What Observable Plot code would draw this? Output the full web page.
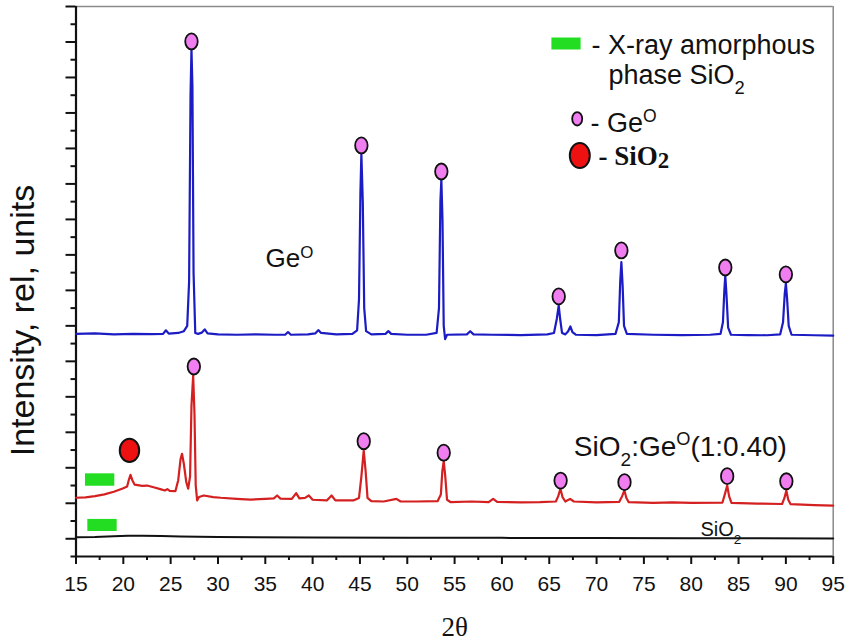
<!DOCTYPE html>
<html>
<head>
<meta charset="utf-8">
<script src="https://cdn.jsdelivr.net/npm/d3@7"></script>
<script src="https://cdn.jsdelivr.net/npm/@observablehq/plot@0.6"></script>
<style>
  html, body { margin: 0; padding: 0; background: #fff; }
  #chart { width: 847px; height: 641px; }
</style>
</head>
<body>
<div id="chart"></div>
<script>
// ---------- data (2θ, relative intensity) ----------
const geCurve = [
  [15.0,12.55],[17.0,12.58],[19.0,12.52],[21.0,12.55],[23.0,12.53],[24.2,12.55],[24.5,12.75],[24.8,12.56],
  [25.8,12.6],[26.4,12.7],[26.75,13.0],[26.95,15.5],[27.1,26.0],[27.2,28.6],[27.3,26.5],[27.42,16.0],[27.6,12.6],
  [27.9,12.55],[28.3,12.62],[28.6,12.8],[28.9,12.58],[30,12.52],[32,12.5],[34,12.52],[36,12.5],[37.1,12.5],
  [37.4,12.65],[37.7,12.5],[39.5,12.52],[40.3,12.58],[40.6,12.76],[40.9,12.6],[42.5,12.52],[44.2,12.55],
  [44.7,12.75],[44.9,14.5],[45.05,20.5],[45.15,22.7],[45.3,20.0],[45.45,14.0],[45.65,12.7],[46.2,12.52],
  [47.7,12.55],[48.0,12.7],[48.3,12.55],[50,12.5],[52,12.5],[53.1,12.6],[53.35,14.0],[53.5,20.0],[53.6,21.25],
  [53.72,19.0],[53.85,13.0],[54.0,12.25],[54.2,12.5],[56.3,12.52],[56.65,12.7],[57.0,12.52],[59,12.5],
  [62,12.48],[64.8,12.52],[65.5,12.6],[65.8,13.4],[66.0,14.15],[66.15,13.4],[66.35,12.6],[66.7,12.52],
  [67.0,12.7],[67.23,12.97],[67.45,12.65],[67.8,12.5],[70,12.48],[72.0,12.55],[72.35,13.2],[72.5,15.5],
  [72.62,16.6],[72.75,15.3],[72.9,13.0],[73.2,12.55],[76,12.5],[79,12.48],[82,12.5],[83.1,12.55],[83.35,13.2],
  [83.5,15.0],[83.6,15.84],[83.72,14.8],[83.9,12.9],[84.2,12.5],[86,12.48],[88,12.47],[89.4,12.52],[89.7,13.2],
  [89.88,14.8],[90.0,15.4],[90.12,14.6],[90.3,13.0],[90.6,12.5],[93,12.47],[95,12.45]
];
const sio2GeCurve = [
  [15.0,3.31],[16,3.33],[17,3.4],[18,3.5],[19,3.65],[20,3.85],[20.4,3.95],[20.6,4.35],[20.76,4.6],[20.95,4.3],
  [21.2,4.05],[22,3.98],[22.5,4.0],[23.2,3.9],[23.9,3.8],[24.4,3.72],[24.65,3.8],[24.9,3.7],[25.5,3.68],
  [25.8,4.3],[26.05,5.5],[26.2,5.79],[26.4,5.2],[26.65,4.2],[26.85,3.82],[27.05,4.5],[27.2,8.5],[27.38,10.2],
  [27.52,8.0],[27.65,4.0],[27.8,3.16],[28.0,3.35],[28.5,3.44],[29.5,3.35],[30.3,3.31],[32,3.25],[33.4,3.21],
  [35,3.25],[35.9,3.28],[36.25,3.44],[36.6,3.26],[37.8,3.25],[38.26,3.57],[38.6,3.28],[39.2,3.3],[39.6,3.44],
  [40.0,3.2],[41.5,3.16],[42.0,3.44],[42.4,3.16],[44.3,3.16],[44.9,3.3],[45.15,4.5],[45.4,5.98],[45.6,4.8],
  [45.8,3.3],[46.2,3.12],[47.5,3.1],[48.85,3.25],[49.3,3.1],[51,3.1],[53.2,3.12],[53.55,3.5],[53.7,4.8],
  [53.85,5.37],[54.0,4.6],[54.2,3.2],[54.6,3.06],[56.8,3.1],[58.6,3.06],[59.07,3.25],[59.5,3.08],[62,3.05],
  [64,3.06],[65.7,3.1],[65.95,3.4],[66.18,3.82],[66.4,3.35],[66.7,3.1],[67.2,3.25],[67.6,3.1],[70,3.05],
  [72.4,3.08],[72.7,3.4],[72.94,3.72],[73.15,3.3],[73.4,3.06],[76,3.02],[78,3.05],[80,3.02],[83.3,3.04],
  [83.55,3.5],[83.8,4.0],[84.0,3.4],[84.25,3.02],[87,2.98],[89.6,2.96],[89.85,3.3],[90.05,3.72],[90.25,3.2],
  [90.5,2.95],[93,2.9],[95,2.87]
];
const sio2Curve = [
  [15,1.09],[17,1.1],[19,1.14],[20.5,1.17],[22,1.17],[24,1.15],[26,1.13],[30,1.1],[40,1.07],[50,1.05],
  [60,1.05],[70,1.04],[80,1.03],[95,1.02]
];
// Ge° reflection markers (2θ, intensity)
const geMarks = [[27.2,29.03],[45.15,23.17],[53.6,21.7],[66.0,14.66],[72.62,17.25],[83.6,16.29],[90.0,15.9]];
const sio2GeMarks = [[27.45,10.71],[45.4,6.5],[53.85,5.85],[66.2,4.28],[72.95,4.19],[83.8,4.53],[90.05,4.24]];
const sio2Marks = [[20.65,5.98]];
// X-ray amorphous SiO2 bands (2θ range, intensity range)
const amorphousBands = [
  {x1:16.0, x2:19.1, y1:3.96, y2:4.66},
  {x1:16.25, x2:19.35, y1:1.41, y2:2.09}
];
// curve labels
const curveLabels = [
  {text:"Ge^{O}", x:35.02, y:16.31},
  {text:"SiO_{2}:Ge^{O}(1:0.40)", x:67.6, y:5.69},
  {text:"SiO_{2}", x:80.97, y:1.15}
];
const legendTexts = ["- X-ray amorphous", "phase SiO_{2}", "- Ge^{O}", "- SiO_{2}"];
const xTicksMajor = [15,20,25,30,35,40,45,50,55,60,65,70,75,80,85,90,95];
const xTicksMinor = [17.5,22.5,27.5,32.5,37.5,42.5,47.5,52.5,57.5,62.5,67.5,72.5,77.5,82.5,87.5,92.5];
const yTicksMajor = [1,3,5,7,9,11,13,15,17,19,21,23,25,27,29,31];
const yTicksMinor = [0,2,4,6,8,10,12,14,16,18,20,22,24,26,28,30];
const xTitle = "2θ";
const yTitle = "Intensity, rel, units";

// ---------- symbols ----------
function ellipse(ratio) {
  return {draw(ctx, size) {
    const ry = Math.sqrt(size / Math.PI), rx = ry * ratio, k = 0.5523;
    ctx.moveTo(rx, 0);
    ctx.bezierCurveTo(rx, ry*k, rx*k, ry, 0, ry);
    ctx.bezierCurveTo(-rx*k, ry, -rx, ry*k, -rx, 0);
    ctx.bezierCurveTo(-rx, -ry*k, -rx*k, -ry, 0, -ry);
    ctx.bezierCurveTo(rx*k, -ry, rx, -ry*k, rx, 0);
    ctx.closePath();
  }};
}
const swatch = {draw(ctx) { ctx.rect(-14.6, -6, 29.2, 12); }};

const PINK = "#f07ef0", RED = "#ee1111", GREEN = "#22dd22", BLUE = "#1c1cc4", DRED = "#d42020";
const sans = "Liberation Sans, Arial, sans-serif";
const serif = "Liberation Serif, Times New Roman, serif";

const chart = Plot.plot({
  width: 847, height: 641,
  marginLeft: 75.5, marginRight: 14.3, marginTop: 6, marginBottom: 85,
  x: {domain: [15, 95]},
  y: {domain: [0, 31]},
  style: {fontFamily: sans, background: "#fff", color: "#111", overflow: "visible"},
  marks: [
    // frame
    Plot.ruleY([31], {stroke: "#8a8a8a", strokeWidth: 1.5}),
    Plot.ruleX([95], {stroke: "#8a8a8a", strokeWidth: 1.5}),
    // axes
    Plot.axisX({ticks: xTicksMajor, tickSize: 8, tickPadding: 12, fontSize: 21, stroke: "#111", strokeWidth: 2, label: null}),
    Plot.axisX({ticks: xTicksMinor, tickSize: 4, tickFormat: () => "", stroke: "#111", strokeWidth: 2, label: null}),
    Plot.axisY({ticks: yTicksMajor, tickSize: 10, tickFormat: () => "", stroke: "#111", strokeWidth: 2, label: null}),
    Plot.axisY({ticks: yTicksMinor, tickSize: 5, tickFormat: () => "", stroke: "#111", strokeWidth: 2, label: null}),
    Plot.ruleX([15], {stroke: "#111", strokeWidth: 2.2}),
    Plot.ruleY([0], {stroke: "#111", strokeWidth: 2.2}),
    // curves
    Plot.line(sio2Curve, {x: d => d[0], y: d => d[1], stroke: "#111", strokeWidth: 2}),
    Plot.line(sio2GeCurve, {x: d => d[0], y: d => d[1], stroke: DRED, strokeWidth: 2.2}),
    Plot.line(geCurve, {x: d => d[0], y: d => d[1], stroke: BLUE, strokeWidth: 2.2}),
    // amorphous bands
    Plot.rect(amorphousBands, {x1: "x1", x2: "x2", y1: "y1", y2: "y2", fill: GREEN}),
    // markers
    Plot.dot(geMarks, {x: d => d[0], y: d => d[1], symbol: ellipse(0.78), r: 8, fill: PINK, stroke: "#111", strokeWidth: 1.8}),
    Plot.dot(sio2GeMarks, {x: d => d[0], y: d => d[1], symbol: ellipse(0.78), r: 8, fill: PINK, stroke: "#111", strokeWidth: 1.8}),
    Plot.dot(sio2Marks, {x: d => d[0], y: d => d[1], symbol: ellipse(0.83), r: 11.7, fill: RED, stroke: "#111", strokeWidth: 2}),
    // curve labels
    Plot.text([curveLabels[0]], {x: "x", y: "y", text: "text", textAnchor: "start", lineAnchor: "bottom", fontSize: 26, fill: "#111"}),
    Plot.text([curveLabels[1]], {x: "x", y: "y", text: "text", textAnchor: "start", lineAnchor: "bottom", fontSize: 28, fill: "#111"}),
    Plot.text([curveLabels[2]], {x: "x", y: "y", text: "text", textAnchor: "start", lineAnchor: "bottom", fontSize: 20, fill: "#111"}),
    // legend
    Plot.dot([0], {frameAnchor: "top-left", dx: 490, dy: 37, symbol: swatch, r: 5, fill: GREEN, stroke: "none"}),
    Plot.text([legendTexts[0]], {text: d => d, frameAnchor: "top-left", dx: 515.5, dy: 47.3, textAnchor: "start", lineAnchor: "bottom", fontSize: 27, fill: "#111"}),
    Plot.text([legendTexts[1]], {text: d => d, frameAnchor: "top-left", dx: 532.5, dy: 77.3, textAnchor: "start", lineAnchor: "bottom", fontSize: 27, fill: "#111"}),
    Plot.dot([0], {frameAnchor: "top-left", dx: 501.2, dy: 112.3, symbol: ellipse(0.75), r: 6.7, fill: PINK, stroke: "#111", strokeWidth: 1.8}),
    Plot.text([legendTexts[2]], {text: d => d, frameAnchor: "top-left", dx: 514.5, dy: 125.7, textAnchor: "start", lineAnchor: "bottom", fontSize: 27, fill: "#111"}),
    Plot.dot([0], {frameAnchor: "top-left", dx: 503.8, dy: 149, symbol: ellipse(0.8), r: 12.5, fill: RED, stroke: "#111", strokeWidth: 2}),
    Plot.text([legendTexts[3]], {text: d => d, frameAnchor: "top-left", dx: 522.5, dy: 158, textAnchor: "start", lineAnchor: "bottom", fontSize: 27, fontFamily: serif, fontWeight: "bold", fill: "#111"}),
    // axis titles
    Plot.text([xTitle], {text: d => d, frameAnchor: "bottom", dy: 79, textAnchor: "middle", lineAnchor: "bottom", fontSize: 27, fontFamily: serif, fill: "#111"}),
    Plot.text([yTitle], {text: d => d, frameAnchor: "left", dx: -42, dy: 39, rotate: -90, textAnchor: "middle", lineAnchor: "bottom", fontSize: 34, fill: "#111"})
  ]
});
document.getElementById("chart").appendChild(chart);

// rich text: _{sub} and ^{sup}
const NS = "http://www.w3.org/2000/svg";
chart.querySelectorAll("text").forEach(el => {
  const s = el.textContent;
  if (!/[_^]\{/.test(s)) return;
  const fs = parseFloat(getComputedStyle(el).fontSize) || 20;
  const bold = /SiO_\{2\}$/.test(s) && getComputedStyle(el).fontWeight >= 600;
  el.textContent = "";
  const re = /([_^])\{([^}]*)\}|([^_^]+)/g;
  let m, shift = 0;
  while ((m = re.exec(s))) {
    const t = document.createElementNS(NS, "tspan");
    if (m[3] !== undefined) {
      t.textContent = m[3];
      if (shift) t.setAttribute("dy", -shift);
      shift = 0;
    } else if (m[1] === "_") {
      const size = bold ? 0.85 : 0.68, sh = bold ? 0.12 * fs : 0.38 * fs;
      t.textContent = m[2];
      t.setAttribute("font-size", size * fs);
      t.setAttribute("dy", sh - shift);
      shift = sh;
    } else {
      const sh = -0.36 * fs;
      t.textContent = m[2];
      t.setAttribute("font-size", 0.65 * fs);
      t.setAttribute("dy", sh - shift);
      shift = sh;
    }
    el.appendChild(t);
  }
});
</script>
</body>
</html>
